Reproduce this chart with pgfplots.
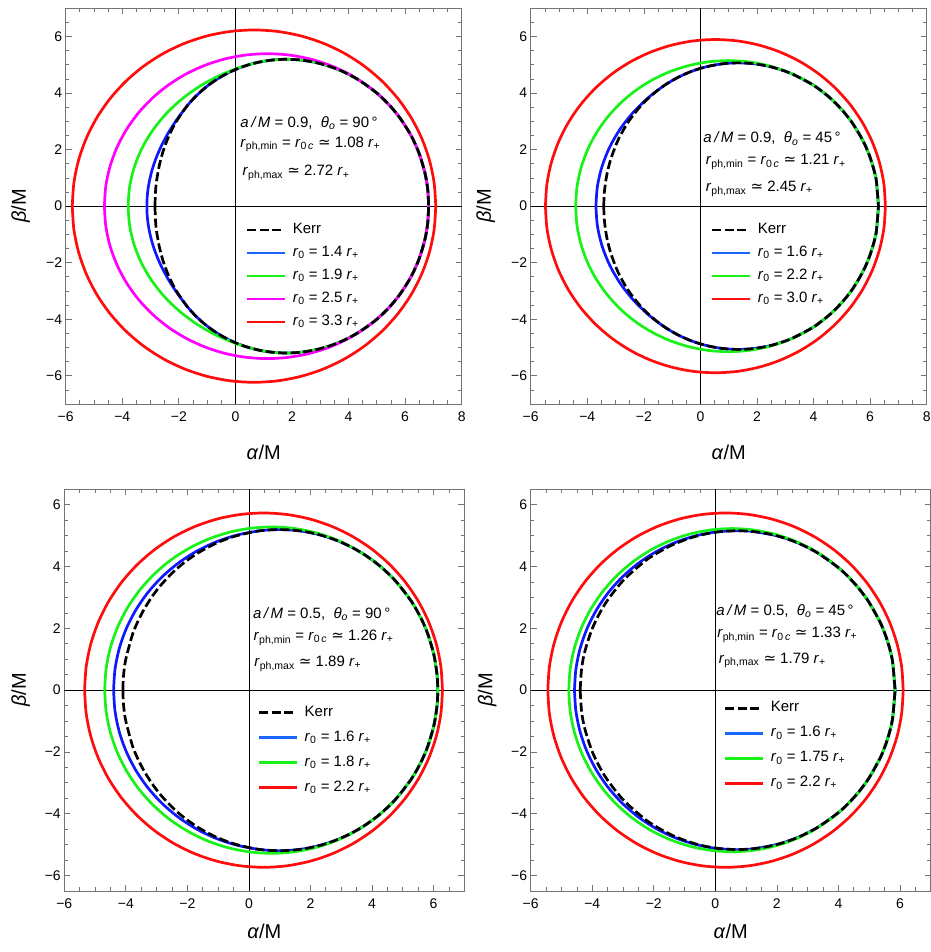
\documentclass[border=0pt]{standalone}
\usepackage{fontspec}
\setmainfont{Liberation Sans}
\newfontfamily\dejavu{DejaVu Sans}
\usepackage{pgfplots}
\pgfplotsset{compat=1.18}
\usepackage{pgfplotstable}

\definecolor{cblue}{rgb}{0.05,0.1,1}
\definecolor{lblue}{rgb}{0.1,0.4,1}
\definecolor{cgreen}{rgb}{0.1,0.95,0.1}
\definecolor{cmag}{rgb}{1,0,1}
\definecolor{cred}{rgb}{1,0.05,0.05}

% ---------- Panel 1 : a/M=0.9, theta=90 (upper halves) ----------
\pgfplotstableread{
x y
-2.844 0
-2.826 0.506
-2.788 0.885
-2.687 1.454
-2.541 1.990
-2.347 2.494
-2.103 2.973
-1.744 3.500
-1.473 3.813
-1.185 4.090
-0.880 4.334
-0.557 4.549
-0.215 4.735
0.147 4.893
0.529 5.020
0.932 5.115
1.356 5.175
1.800 5.196
2.266 5.173
2.753 5.100
3.261 4.968
3.791 4.766
4.342 4.475
4.915 4.070
5.210 3.810
5.510 3.499
5.816 3.120
6.127 2.642
6.316 2.282
6.508 1.828
6.701 1.175
6.798 0.603
6.832 0
}\PAkerr
\pgfplotstableread{
x y
-3.131 0
-3.12 0.310
-3.10 0.523
-3.05 0.846
-2.95 1.266
-2.80 1.712
-2.60 2.168
-2.35 2.629
-2.05 3.091
-1.717 3.534
-1.473 3.813
-1.185 4.090
-0.880 4.334
-0.557 4.549
-0.215 4.735
0.147 4.893
0.529 5.020
0.932 5.115
1.356 5.175
1.800 5.196
2.266 5.173
2.753 5.100
3.261 4.968
3.791 4.766
4.342 4.475
4.915 4.070
5.210 3.810
5.510 3.499
5.816 3.120
6.127 2.642
6.316 2.282
6.508 1.828
6.701 1.175
6.798 0.603
6.832 0
}\PAblue
\pgfplotstableread{
x y
-3.794 0
-3.740 0.689
-3.580 1.367
-3.317 2.021
-2.954 2.640
-2.499 3.215
-1.958 3.734
-1.342 4.190
-0.661 4.573
0.074 4.879
0.640 5.050
0.932 5.115
1.356 5.175
1.800 5.196
2.266 5.173
2.753 5.100
3.261 4.968
3.791 4.766
4.342 4.475
4.915 4.070
5.210 3.810
5.510 3.499
5.816 3.120
6.127 2.642
6.316 2.282
6.508 1.828
6.701 1.175
6.798 0.603
6.832 0
}\PAgreen
\pgfplotstableread{
x y
-4.632 0
-4.583 0.704
-4.436 1.396
-4.193 2.064
-3.860 2.697
-3.441 3.284
-2.944 3.814
-2.377 4.280
-1.750 4.672
-1.074 4.984
-0.360 5.211
0.380 5.348
1.132 5.394
1.885 5.348
2.624 5.211
3.338 4.984
4.015 4.672
4.641 4.280
4.855 4.119
5.210 3.810
5.510 3.499
5.816 3.120
6.127 2.642
6.316 2.282
6.508 1.828
6.701 1.175
6.798 0.603
6.832 0
}\PAmag
\pgfplotstableread{
x y
-5.767 0
-5.712 0.814
-5.548 1.613
-5.278 2.385
-4.906 3.117
-4.439 3.794
-3.885 4.407
-3.254 4.945
-2.555 5.398
-1.801 5.759
-1.005 6.021
-0.181 6.180
0.657 6.233
1.496 6.180
2.320 6.021
3.116 5.759
3.870 5.398
4.568 4.945
5.200 4.407
5.754 3.794
6.221 3.117
6.593 2.385
6.863 1.613
7.027 0.814
7.082 0
}\PAred

% ---------- Panel 2 : a/M=0.9, theta=45 ----------
\pgfplotstableread{
x y
-3.417 0
-3.398 0.470
-3.319 1.056
-3.182 1.622
-2.973 2.196
-2.832 2.496
-2.652 2.819
-2.467 3.100
-2.083 3.575
-1.676 3.965
-1.245 4.291
-0.788 4.559
-0.304 4.773
0.208 4.931
0.749 5.032
1.318 5.070
1.917 5.035
2.546 4.916
3.204 4.694
3.893 4.340
4.248 4.099
4.612 3.802
4.982 3.431
5.361 2.958
5.747 2.314
5.982 1.771
6.141 1.257
6.221 0.881
6.295 0
}\PBkerr
\pgfplotstableread{
x y
-3.695 0
-3.640 0.711
-3.477 1.410
-3.209 2.085
-2.840 2.724
-2.376 3.316
-1.826 3.852
-1.256 4.284
-0.788 4.559
-0.304 4.773
0.208 4.931
0.749 5.032
1.318 5.070
1.917 5.035
2.546 4.916
3.204 4.694
3.893 4.340
4.248 4.099
4.612 3.802
4.982 3.431
5.361 2.958
5.747 2.314
5.982 1.771
6.141 1.257
6.221 0.881
6.295 0
}\PBblue
\pgfplotstableread{
x y
-4.411 0
-4.365 0.672
-4.227 1.333
-4.000 1.971
-3.688 2.575
-3.295 3.135
-2.830 3.641
-2.299 4.086
-1.711 4.460
-1.078 4.758
-0.409 4.974
0.284 5.106
0.989 5.150
1.694 5.106
2.386 4.974
3.055 4.758
3.607 4.504
3.893 4.340
4.248 4.099
4.612 3.802
4.982 3.431
5.361 2.958
5.747 2.314
5.982 1.771
6.141 1.257
6.221 0.881
6.295 0
}\PBgreen
\pgfplotstableread{
x y
-5.479 0
-5.428 0.770
-5.274 1.526
-5.022 2.256
-4.674 2.948
-4.237 3.589
-3.719 4.168
-3.128 4.677
-2.475 5.105
-1.770 5.446
-1.025 5.694
-0.254 5.845
0.530 5.895
1.314 5.845
2.085 5.694
2.830 5.446
3.535 5.105
4.188 4.677
4.779 4.168
5.297 3.589
5.734 2.948
6.082 2.256
6.334 1.526
6.488 0.770
6.539 0
}\PBred

% ---------- Panel 3 : a/M=0.5, theta=90 ----------
\pgfplotstableread{
x y
-4.096 0
-4.077 0.450
-4.007 0.974
-3.794 1.769
-3.652 2.130
-3.436 2.565
-3.146 3.029
-2.853 3.409
-2.481 3.802
-2.103 4.128
-1.641 4.449
-1.089 4.743
-0.524 4.961
0.141 5.123
0.567 5.177
1.000 5.196
1.442 5.177
1.891 5.117
2.350 5.013
2.816 4.860
3.292 4.649
3.776 4.371
4.268 4.007
4.770 3.528
5.281 2.872
5.591 2.331
5.800 1.852
6.010 1.151
6.116 0.481
6.138 0
}\PCkerr
\pgfplotstableread{
x y
-4.398 0
-4.352 0.678
-4.214 1.345
-3.986 1.989
-3.673 2.598
-3.280 3.163
-2.813 3.674
-2.280 4.123
-1.692 4.500
-1.057 4.801
-0.386 5.019
0.308 5.152
0.874 5.196
1.442 5.177
1.891 5.117
2.350 5.013
2.816 4.860
3.292 4.649
3.776 4.371
4.268 4.007
4.770 3.528
5.281 2.872
5.591 2.331
5.800 1.852
6.010 1.151
6.116 0.481
6.138 0
}\PCblue
\pgfplotstableread{
x y
-4.688 0
-4.641 0.689
-4.503 1.367
-4.275 2.021
-3.961 2.641
-3.567 3.215
-3.099 3.734
-2.566 4.190
-1.976 4.573
-1.340 4.879
-0.668 5.101
0.028 5.236
0.736 5.281
1.444 5.236
2.140 5.101
2.812 4.879
3.448 4.573
4.038 4.190
4.357 3.932
4.770 3.528
5.281 2.872
5.591 2.331
5.800 1.852
6.010 1.151
6.116 0.481
6.138 0
}\PCgreen
\pgfplotstableread{
x y
-5.340 0
-5.290 0.748
-5.142 1.484
-4.897 2.194
-4.561 2.867
-4.138 3.490
-3.637 4.054
-3.065 4.548
-2.433 4.965
-1.750 5.297
-1.030 5.538
-0.284 5.684
0.475 5.733
1.234 5.684
1.980 5.538
2.700 5.297
3.383 4.965
4.015 4.548
4.587 4.054
5.088 3.490
5.511 2.867
5.847 2.194
6.092 1.484
6.240 0.748
6.290 0
}\PCred

% ---------- Panel 4 : a/M=0.5, theta=45 ----------
\pgfplotstableread{
x y
-4.392 0
-4.346 0.693
-4.243 1.242
-4.035 1.899
-3.825 2.365
-3.509 2.903
-2.974 3.570
-2.321 4.150
-1.989 4.378
-1.540 4.630
-1.200 4.783
-0.740 4.946
-0.274 5.062
0.200 5.133
0.801 5.158
1.414 5.111
2.039 4.985
2.675 4.768
3.323 4.442
3.983 3.976
4.317 3.672
4.655 3.302
4.996 2.841
5.340 2.230
5.478 1.913
5.617 1.517
5.756 0.948
5.842 0
}\PDkerr
\pgfplotstableread{
x y
-4.577 0
-4.532 0.674
-4.397 1.336
-4.176 1.975
-3.871 2.580
-3.489 3.142
-3.035 3.649
-2.517 4.094
-1.944 4.469
-1.327 4.768
-0.674 4.985
0.001 5.117
0.688 5.161
1.237 5.133
2.039 4.985
2.675 4.768
3.323 4.442
3.983 3.976
4.317 3.672
4.655 3.302
4.996 2.841
5.340 2.230
5.478 1.913
5.617 1.517
5.756 0.948
5.842 0
}\PDblue
\pgfplotstableread{
x y
-4.763 0
-4.717 0.683
-4.582 1.353
-4.359 2.001
-4.052 2.614
-3.666 3.183
-3.209 3.697
-2.687 4.148
-2.110 4.528
-1.488 4.831
-0.831 5.051
-0.150 5.184
0.542 5.229
1.235 5.184
1.915 5.051
2.572 4.831
3.195 4.528
3.772 4.148
4.294 3.697
4.751 3.183
4.867 3.028
4.996 2.841
5.340 2.230
5.478 1.913
5.617 1.517
5.756 0.948
5.842 0
}\PDgreen
\pgfplotstableread{
x y
-5.444 0
-5.394 0.749
-5.247 1.484
-5.004 2.194
-4.670 2.867
-4.250 3.491
-3.752 4.055
-3.184 4.549
-2.556 4.966
-1.879 5.298
-1.164 5.539
-0.423 5.685
0.331 5.734
1.085 5.685
1.826 5.539
2.541 5.298
3.218 4.966
3.846 4.549
4.414 4.055
4.912 3.491
5.332 2.867
5.666 2.194
5.909 1.484
6.056 0.749
6.106 0
}\PDred

% #1 colour, #2 extra options, #3 table (upper half; lower half is its mirror)
\newcommand{\shape}[3]{%
  \addplot[color=#1, line width=2.7pt, smooth, #2, forget plot] table {#3};
  \addplot[color=#1, line width=2.7pt, smooth, #2, forget plot] table[y expr=-\thisrowno{1}] {#3};
}
\newcommand{\rz}[1]{\textit{r}\textsubscript{0} = #1 \textit{r}\textsubscript{+}}
\newcommand{\fs}{\fontsize{15}{17}\selectfont}

\pgfplotsset{
  shadowax/.style={
    scale only axis, anchor=south west,
    axis line style={draw=black!55, line width=0.7pt},
    tick style={draw=black!55, line width=0.7pt},
    major tick length=6pt, minor tick length=3.5pt,
    xtick pos=both, ytick pos=both,
    xticklabel pos=left, yticklabel pos=left,
    tick label style={font=\fontsize{14}{16}\selectfont},
    xticklabel style={yshift=-4pt},
    label style={font=\fontsize{20}{23}\selectfont},
    xlabel={\textit{α}/M}, ylabel={\textit{β}/M},
    ytick={-6,-4,...,6},
    yticklabels={−6,−4,−2,0,2,4,6},
    legend cell align=left,
    legend image code/.code={\draw[line width=2.7pt, ##1] (0pt,0pt) -- (37.5pt,0pt);},
    legend style={draw=none, fill=none, anchor=north west,
      font=\fs, column sep=5pt, inner sep=0pt,
      nodes={inner sep=1.5pt, text height=11pt, text depth=4pt}},
  },
}

\begin{document}
\begin{tikzpicture}
% ================= Panel 1 =================
\begin{axis}[shadowax, at={(65.7pt,548pt)}, width=396pt, height=395.7pt,
  xmin=-6, xmax=8, ymin=-7, ymax=7,
  xtick={-6,-4,...,8}, xticklabels={−6,−4,−2,0,2,4,6,8},
  minor xtick={-6,-5.5,...,8}, minor ytick={-7,-6.5,...,7},
  xlabel style={at={(axis description cs:0.5,0)}, anchor=center, yshift=-48pt},
  ylabel style={at={(axis description cs:0,0.5)}, anchor=center, yshift=45pt},
  legend style={at={(axis cs:0.37,-0.52)}, row sep=5pt}]
\addlegendimage{black, dash pattern=on 9pt off 3.5pt}\addlegendentry{Kerr}
\addlegendimage{lblue}\addlegendentry{\rz{1.4}}
\addlegendimage{cgreen}\addlegendentry{\rz{1.9}}
\addlegendimage{cmag}\addlegendentry{\rz{2.5}}
\addlegendimage{cred}\addlegendentry{\rz{3.3}}
\addplot[black, line width=0.8pt, forget plot] coordinates {(0,-7) (0,7)};
\addplot[black, line width=0.8pt, forget plot] coordinates {(-6,0) (8,0)};
\shape{cblue}{}{\PAblue}
\shape{cgreen}{}{\PAgreen}
\shape{cmag}{}{\PAmag}
\shape{cred}{}{\PAred}
\shape{black}{dash pattern=on 9pt off 3.5pt}{\PAkerr}
\node[anchor=west, inner sep=0pt, font=\fs] at (axis cs:0.17,2.93)
  {\textit{a\,/\,M} = 0.9,\ \ \textit{θ}\textsubscript{\textit{o}} = 90\,°};
\node[anchor=west, inner sep=0pt, font=\fs] at (axis cs:0.17,2.18)
  {\textit{r}\textsubscript{ph,min} = \textit{r}\textsubscript{0\,\textit{c}} {\dejavu ≃} 1.08 \textit{r}\textsubscript{+}};
\node[anchor=west, inner sep=0pt, font=\fs] at (axis cs:0.25,1.17)
  {\textit{r}\textsubscript{ph,max} {\dejavu ≃} 2.72 \textit{r}\textsubscript{+}};
\end{axis}

% ================= Panel 2 =================
\begin{axis}[shadowax, at={(530.7pt,548pt)}, width=396pt, height=395.7pt,
  xmin=-6, xmax=8, ymin=-7, ymax=7,
  xtick={-6,-4,...,8}, xticklabels={−6,−4,−2,0,2,4,6,8},
  minor xtick={-6,-5.5,...,8}, minor ytick={-7,-6.5,...,7},
  xlabel style={at={(axis description cs:0.5,0)}, anchor=center, yshift=-48pt},
  ylabel style={at={(axis description cs:0,0.5)}, anchor=center, yshift=45pt},
  legend style={at={(axis cs:0.37,-0.52)}, row sep=5pt}]
\addlegendimage{black, dash pattern=on 9pt off 3.5pt}\addlegendentry{Kerr}
\addlegendimage{lblue}\addlegendentry{\rz{1.6}}
\addlegendimage{cgreen}\addlegendentry{\rz{2.2}}
\addlegendimage{cred}\addlegendentry{\rz{3.0}}
\addplot[black, line width=0.8pt, forget plot] coordinates {(0,-7) (0,7)};
\addplot[black, line width=0.8pt, forget plot] coordinates {(-6,0) (8,0)};
\shape{cblue}{}{\PBblue}
\shape{cgreen}{}{\PBgreen}
\shape{cred}{}{\PBred}
\shape{black}{dash pattern=on 9pt off 3.5pt}{\PBkerr}
\node[anchor=west, inner sep=0pt, font=\fs] at (axis cs:0.1,2.39)
  {\textit{a\,/\,M} = 0.9,\ \ \textit{θ}\textsubscript{\textit{o}} = 45\,°};
\node[anchor=west, inner sep=0pt, font=\fs] at (axis cs:0.19,1.56)
  {\textit{r}\textsubscript{ph,min} = \textit{r}\textsubscript{0\,\textit{c}} {\dejavu ≃} 1.21 \textit{r}\textsubscript{+}};
\node[anchor=west, inner sep=0pt, font=\fs] at (axis cs:0.19,0.62)
  {\textit{r}\textsubscript{ph,max} {\dejavu ≃} 2.45 \textit{r}\textsubscript{+}};
\end{axis}

% ================= Panel 3 =================
\begin{axis}[shadowax, at={(64.3pt,61pt)}, width=400pt, height=401.7pt,
  xmin=-6, xmax=7, ymin=-6.5, ymax=6.5,
  xtick={-6,-4,...,6}, xticklabels={−6,−4,−2,0,2,4,6},
  minor xtick={-6,-5.5,...,7}, minor ytick={-6.5,-6,...,6.5},
  xlabel style={at={(axis description cs:0.5,0)}, anchor=center, yshift=-40pt},
  ylabel style={at={(axis description cs:0,0.5)}, anchor=center, yshift=43.6pt},
  legend style={at={(axis cs:0.29,-0.43)}, row sep=7pt}]
\addlegendimage{black, dash pattern=on 9pt off 3.5pt}\addlegendentry{Kerr}
\addlegendimage{lblue}\addlegendentry{\rz{1.6}}
\addlegendimage{cgreen}\addlegendentry{\rz{1.8}}
\addlegendimage{cred}\addlegendentry{\rz{2.2}}
\addplot[black, line width=0.8pt, forget plot] coordinates {(0,-6.5) (0,6.5)};
\addplot[black, line width=0.8pt, forget plot] coordinates {(-6,0) (7,0)};
\shape{cblue}{}{\PCblue}
\shape{cgreen}{}{\PCgreen}
\shape{cred}{}{\PCred}
\shape{black}{dash pattern=on 9pt off 3.5pt}{\PCkerr}
\node[anchor=west, inner sep=0pt, font=\fs] at (axis cs:0.13,2.46)
  {\textit{a\,/\,M} = 0.5,\ \ \textit{θ}\textsubscript{\textit{o}} = 90\,°};
\node[anchor=west, inner sep=0pt, font=\fs] at (axis cs:0.15,1.70)
  {\textit{r}\textsubscript{ph,min} = \textit{r}\textsubscript{0\,\textit{c}} {\dejavu ≃} 1.26 \textit{r}\textsubscript{+}};
\node[anchor=west, inner sep=0pt, font=\fs] at (axis cs:0.17,0.85)
  {\textit{r}\textsubscript{ph,max} {\dejavu ≃} 1.89 \textit{r}\textsubscript{+}};
\end{axis}

% ================= Panel 4 =================
\begin{axis}[shadowax, at={(530.7pt,61pt)}, width=400pt, height=401.7pt,
  xmin=-6, xmax=7, ymin=-6.5, ymax=6.5,
  xtick={-6,-4,...,6}, xticklabels={−6,−4,−2,0,2,4,6},
  minor xtick={-6,-5.5,...,7}, minor ytick={-6.5,-6,...,6.5},
  xlabel style={at={(axis description cs:0.5,0)}, anchor=center, yshift=-40pt},
  ylabel style={at={(axis description cs:0,0.5)}, anchor=center, yshift=43.6pt},
  legend style={at={(axis cs:0.28,-0.29)}, row sep=7pt}]
\addlegendimage{black, dash pattern=on 9pt off 3.5pt}\addlegendentry{Kerr}
\addlegendimage{lblue}\addlegendentry{\rz{1.6}}
\addlegendimage{cgreen}\addlegendentry{\rz{1.75}}
\addlegendimage{cred}\addlegendentry{\rz{2.2}}
\addplot[black, line width=0.8pt, forget plot] coordinates {(0,-6.5) (0,6.5)};
\addplot[black, line width=0.8pt, forget plot] coordinates {(-6,0) (7,0)};
\shape{cblue}{}{\PDblue}
\shape{cgreen}{}{\PDgreen}
\shape{cred}{}{\PDred}
\shape{black}{dash pattern=on 9pt off 3.5pt}{\PDkerr}
\node[anchor=west, inner sep=0pt, font=\fs] at (axis cs:0.03,2.57)
  {\textit{a\,/\,M} = 0.5,\ \ \textit{θ}\textsubscript{\textit{o}} = 45\,°};
\node[anchor=west, inner sep=0pt, font=\fs] at (axis cs:0.06,1.79)
  {\textit{r}\textsubscript{ph,min} = \textit{r}\textsubscript{0\,\textit{c}} {\dejavu ≃} 1.33 \textit{r}\textsubscript{+}};
\node[anchor=west, inner sep=0pt, font=\fs] at (axis cs:0.11,0.96)
  {\textit{r}\textsubscript{ph,max} {\dejavu ≃} 1.79 \textit{r}\textsubscript{+}};
\end{axis}
\pgfresetboundingbox
\path[use as bounding box] (0pt,0pt) rectangle (930pt,952pt);
\end{tikzpicture}
\end{document}
